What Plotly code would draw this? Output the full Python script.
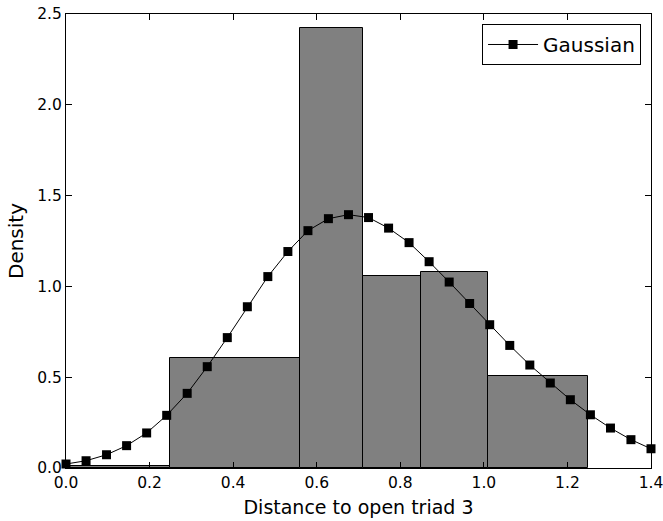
import plotly.graph_objects as go

# Histogram bins (edges) and densities
bin_left = [0.0, 0.25, 0.56, 0.71, 0.85, 1.01]
bin_right = [0.25, 0.56, 0.71, 0.85, 1.01, 1.25]
density = [0.012, 0.605, 2.425, 1.057, 1.077, 0.506]

# Gaussian curve points
gx = [0.000, 0.048, 0.097, 0.145, 0.193, 0.241, 0.290, 0.338, 0.386, 0.434,
      0.483, 0.531, 0.579, 0.628, 0.676, 0.724, 0.772, 0.821, 0.869, 0.917,
      0.966, 1.014, 1.062, 1.110, 1.159, 1.207, 1.255, 1.303, 1.352, 1.400]
gy = [0.022, 0.040, 0.073, 0.123, 0.193, 0.290, 0.411, 0.558, 0.718, 0.888,
      1.054, 1.192, 1.307, 1.373, 1.395, 1.379, 1.321, 1.241, 1.136, 1.024,
      0.906, 0.789, 0.675, 0.567, 0.468, 0.376, 0.293, 0.220, 0.156, 0.106]

x_ticks = [0.0, 0.2, 0.4, 0.6, 0.8, 1.0, 1.2, 1.4]
y_ticks = [0.0, 0.5, 1.0, 1.5, 2.0, 2.5]

centers = [(a + b) / 2 for a, b in zip(bin_left, bin_right)]
widths = [b - a for a, b in zip(bin_left, bin_right)]

fig = go.Figure()
fig.add_trace(go.Bar(
    x=centers, y=density, width=widths,
    marker=dict(color="#808080", line=dict(color="black", width=1)),
    showlegend=False,
))
fig.add_trace(go.Scatter(
    x=gx, y=gy, mode="lines+markers", name="Gaussian",
    line=dict(color="black", width=1),
    marker=dict(symbol="square", size=9, color="black"),
    cliponaxis=False,
))

font = "DejaVu Sans, Liberation Sans, sans-serif"
axis_common = dict(
    showgrid=False, zeroline=False, showline=True, linecolor="black", linewidth=1,
    mirror="ticks", ticks="inside", ticklen=6, tickwidth=1, tickcolor="black",
    tickfont=dict(family=font, size=15.5, color="black"), automargin=False,
    ticklabeloverflow="allow",
)
fig.update_xaxes(range=[0, 1.4], tickvals=x_ticks, ticktext=[f"{v:.1f}" for v in x_ticks],
                 title=dict(text="Distance to open triad 3", font=dict(family=font, size=19, color="black"), standoff=10),
                 **axis_common)
fig.update_yaxes(range=[0, 2.5], tickvals=y_ticks, ticktext=[f"{v:.1f}" for v in y_ticks],
                 title=dict(text="Density", font=dict(family=font, size=20, color="black"), standoff=8),
                 **axis_common)

fig.update_layout(
    width=663, height=521,
    margin=dict(l=66, r=12, t=14, b=53),
    plot_bgcolor="white", paper_bgcolor="white",
    barmode="overlay", bargap=0,
    legend=dict(x=0.983, y=0.978, xanchor="right", yanchor="top",
                bordercolor="black", borderwidth=1, bgcolor="white",
                itemwidth=50,
                font=dict(family=font, size=20, color="black")),
)

fig.write_html("out.html")
